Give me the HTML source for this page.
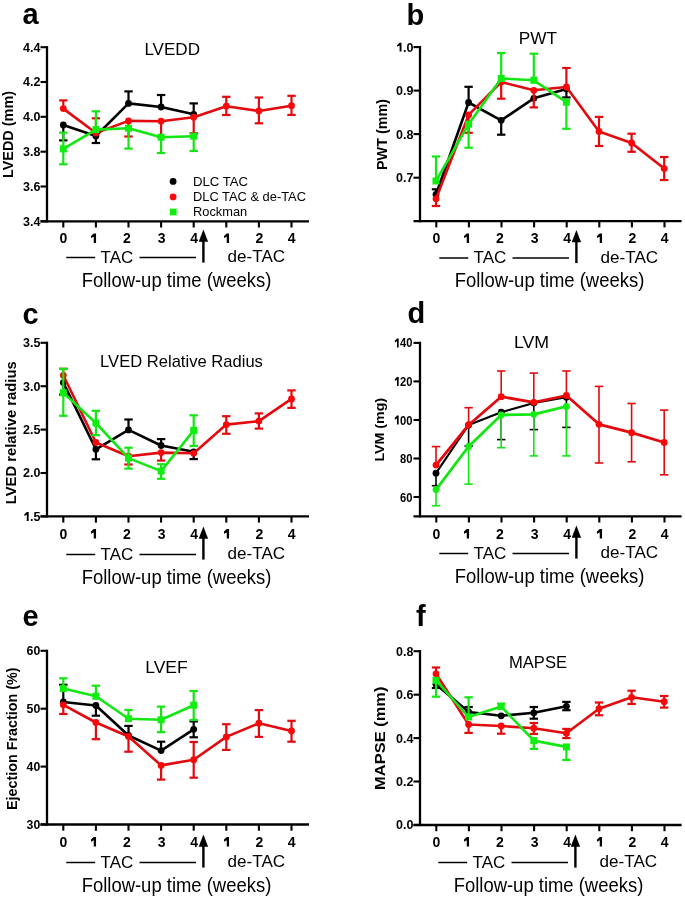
<!DOCTYPE html>
<html><head><meta charset="utf-8"><title>Figure</title>
<style>
html,body{margin:0;padding:0;background:#fff;}
body{width:685px;height:898px;overflow:hidden;}
svg{display:block;filter:blur(0.4px);}
text{font-family:"Liberation Sans",sans-serif;fill:#000;}
</style></head><body>
<svg width="685" height="898" viewBox="0 0 685 898">
<rect width="685" height="898" fill="#fff"/>
<text x="22.5" y="24.0" font-size="29" font-weight="bold">a</text>
<text x="172.2" y="54.5" font-size="16.2" text-anchor="middle" textLength="55.6" lengthAdjust="spacingAndGlyphs">LVEDD</text>
<line x1="47" y1="46.1" x2="47" y2="222.4" stroke="#000" stroke-width="2.3"/>
<line x1="40.5" y1="221.3" x2="309" y2="221.3" stroke="#000" stroke-width="2.3"/>
<line x1="40.5" y1="47.2" x2="47" y2="47.2" stroke="#000" stroke-width="2.1"/>
<g transform="translate(40.50,51.68) scale(1.0,1)"><text x="-17.4" y="0.0" font-size="12.5" font-weight="bold">4</text><text x="-10.4" y="0.0" font-size="12.5" font-weight="bold">.</text><text x="-6.9" y="0.0" font-size="12.5" font-weight="bold">4</text></g>
<line x1="40.5" y1="82.0" x2="47" y2="82.0" stroke="#000" stroke-width="2.1"/>
<g transform="translate(40.50,86.47) scale(1.0,1)"><text x="-17.4" y="0.0" font-size="12.5" font-weight="bold">4</text><text x="-10.4" y="0.0" font-size="12.5" font-weight="bold">.</text><text x="-6.9" y="0.0" font-size="12.5" font-weight="bold">2</text></g>
<line x1="40.5" y1="116.8" x2="47" y2="116.8" stroke="#000" stroke-width="2.1"/>
<g transform="translate(40.50,121.27) scale(1.0,1)"><text x="-17.4" y="0.0" font-size="12.5" font-weight="bold">4</text><text x="-10.4" y="0.0" font-size="12.5" font-weight="bold">.</text><text x="-6.9" y="0.0" font-size="12.5" font-weight="bold">0</text></g>
<line x1="40.5" y1="151.7" x2="47" y2="151.7" stroke="#000" stroke-width="2.1"/>
<g transform="translate(40.50,156.17) scale(1.0,1)"><text x="-17.4" y="0.0" font-size="12.5" font-weight="bold">3</text><text x="-10.4" y="0.0" font-size="12.5" font-weight="bold">.</text><text x="-6.9" y="0.0" font-size="12.5" font-weight="bold">8</text></g>
<line x1="40.5" y1="186.5" x2="47" y2="186.5" stroke="#000" stroke-width="2.1"/>
<g transform="translate(40.50,190.97) scale(1.0,1)"><text x="-17.4" y="0.0" font-size="12.5" font-weight="bold">3</text><text x="-10.4" y="0.0" font-size="12.5" font-weight="bold">.</text><text x="-6.9" y="0.0" font-size="12.5" font-weight="bold">6</text></g>
<line x1="40.5" y1="221.3" x2="47" y2="221.3" stroke="#000" stroke-width="2.1"/>
<g transform="translate(40.50,225.78) scale(1.0,1)"><text x="-17.4" y="0.0" font-size="12.5" font-weight="bold">3</text><text x="-10.4" y="0.0" font-size="12.5" font-weight="bold">.</text><text x="-6.9" y="0.0" font-size="12.5" font-weight="bold">4</text></g>
<line x1="63.3" y1="221.3" x2="63.3" y2="227.5" stroke="#000" stroke-width="2.1"/>
<line x1="95.9" y1="221.3" x2="95.9" y2="227.5" stroke="#000" stroke-width="2.1"/>
<line x1="128.5" y1="221.3" x2="128.5" y2="227.5" stroke="#000" stroke-width="2.1"/>
<line x1="161.1" y1="221.3" x2="161.1" y2="227.5" stroke="#000" stroke-width="2.1"/>
<line x1="193.7" y1="221.3" x2="193.7" y2="227.5" stroke="#000" stroke-width="2.1"/>
<line x1="226.3" y1="221.3" x2="226.3" y2="227.5" stroke="#000" stroke-width="2.1"/>
<line x1="258.9" y1="221.3" x2="258.9" y2="227.5" stroke="#000" stroke-width="2.1"/>
<line x1="291.5" y1="221.3" x2="291.5" y2="227.5" stroke="#000" stroke-width="2.1"/>
<text x="63.5" y="242.9" font-size="14" font-weight="bold" text-anchor="middle">0</text>
<path d="M93.75,233.40 L96.05,233.40 L96.05,242.90 L93.75,242.90 L93.75,236.70 L91.00,238.10 L91.00,235.90 Z" fill="#000"/>
<text x="126.8" y="242.9" font-size="14" font-weight="bold" text-anchor="middle">2</text>
<text x="161.6" y="242.9" font-size="14" font-weight="bold" text-anchor="middle">3</text>
<text x="194.1" y="242.9" font-size="14" font-weight="bold" text-anchor="middle">4</text>
<path d="M226.75,233.40 L229.05,233.40 L229.05,242.90 L226.75,242.90 L226.75,236.70 L224.00,238.10 L224.00,235.90 Z" fill="#000"/>
<text x="259.3" y="242.9" font-size="14" font-weight="bold" text-anchor="middle">2</text>
<text x="291.7" y="242.9" font-size="14" font-weight="bold" text-anchor="middle">4</text>
<text transform="translate(12.7,134.5) rotate(-90)" font-size="14.0" font-weight="bold" text-anchor="middle" textLength="87.0" lengthAdjust="spacingAndGlyphs">LVEDD (mm)</text>
<line x1="66.3" y1="257.5" x2="95.2" y2="257.5" stroke="#000" stroke-width="1.5"/>
<text x="100.6" y="262.6" font-size="16.8" textLength="32.7" lengthAdjust="spacingAndGlyphs">TAC</text>
<line x1="139.5" y1="257.5" x2="196" y2="257.5" stroke="#000" stroke-width="1.5"/>
<line x1="203.4" y1="238" x2="203.4" y2="262.6" stroke="#000" stroke-width="2.4"/>
<polygon points="203.4,229.6 198.70000000000002,241.8 208.1,241.8" fill="#000"/>
<text x="227.6" y="262.0" font-size="16.6" textLength="57.6" lengthAdjust="spacingAndGlyphs">de-TAC</text>
<text x="81.7" y="286.6" font-size="19.4" textLength="189.6" lengthAdjust="spacingAndGlyphs">Follow-up time (weeks)</text>
<circle cx="173.1" cy="181.4" r="3.4" fill="#000"/>
<circle cx="173.1" cy="196.9" r="3.4" fill="#f80808"/>
<rect x="169.8" y="208.6" width="6.8" height="6.8" fill="#10ee10"/>
<text x="193.0" y="186.4" font-size="12.9" textLength="55.0" lengthAdjust="spacingAndGlyphs">DLC TAC</text>
<text x="193.0" y="201.3" font-size="12.9" textLength="113.0" lengthAdjust="spacingAndGlyphs">DLC TAC &amp; de-TAC</text>
<text x="193.0" y="216.4" font-size="12.9" textLength="54.2" lengthAdjust="spacingAndGlyphs">Rockman</text>
<line x1="63.3" y1="125.0" x2="63.3" y2="140.4" stroke="#000" stroke-width="2.2"/>
<line x1="59.1" y1="140.4" x2="67.5" y2="140.4" stroke="#000" stroke-width="2.2"/>
<line x1="95.9" y1="136.0" x2="95.9" y2="143.0" stroke="#000" stroke-width="2.2"/>
<line x1="91.7" y1="143.0" x2="100.1" y2="143.0" stroke="#000" stroke-width="2.2"/>
<line x1="128.5" y1="103.4" x2="128.5" y2="91.4" stroke="#000" stroke-width="2.2"/>
<line x1="124.3" y1="91.4" x2="132.7" y2="91.4" stroke="#000" stroke-width="2.2"/>
<line x1="161.1" y1="107.0" x2="161.1" y2="95.0" stroke="#000" stroke-width="2.2"/>
<line x1="156.9" y1="95.0" x2="165.3" y2="95.0" stroke="#000" stroke-width="2.2"/>
<line x1="193.7" y1="114.3" x2="193.7" y2="103.4" stroke="#000" stroke-width="2.2"/>
<line x1="189.5" y1="103.4" x2="197.9" y2="103.4" stroke="#000" stroke-width="2.2"/>
<polyline points="63.3,125.0 95.9,136.0 128.5,103.4 161.1,107.0 193.7,114.3" fill="none" stroke="#000" stroke-width="2.6" stroke-linejoin="round"/>
<circle cx="63.3" cy="125.0" r="3.40" fill="#000"/>
<circle cx="95.9" cy="136.0" r="3.40" fill="#000"/>
<circle cx="128.5" cy="103.4" r="3.40" fill="#000"/>
<circle cx="161.1" cy="107.0" r="3.40" fill="#000"/>
<circle cx="193.7" cy="114.3" r="3.40" fill="#000"/>
<line x1="63.3" y1="108.6" x2="63.3" y2="100.4" stroke="#e20a0e" stroke-width="2.2"/>
<line x1="59.1" y1="100.4" x2="67.5" y2="100.4" stroke="#e20a0e" stroke-width="2.2"/>
<line x1="95.9" y1="133.0" x2="95.9" y2="118.3" stroke="#e20a0e" stroke-width="2.2"/>
<line x1="91.7" y1="118.3" x2="100.1" y2="118.3" stroke="#e20a0e" stroke-width="2.2"/>
<line x1="128.5" y1="120.9" x2="128.5" y2="136.5" stroke="#e20a0e" stroke-width="2.2"/>
<line x1="124.3" y1="136.5" x2="132.7" y2="136.5" stroke="#e20a0e" stroke-width="2.2"/>
<line x1="161.1" y1="121.2" x2="161.1" y2="137.0" stroke="#e20a0e" stroke-width="2.2"/>
<line x1="156.9" y1="137.0" x2="165.3" y2="137.0" stroke="#e20a0e" stroke-width="2.2"/>
<line x1="193.7" y1="117.2" x2="193.7" y2="133.3" stroke="#e20a0e" stroke-width="2.2"/>
<line x1="189.5" y1="133.3" x2="197.9" y2="133.3" stroke="#e20a0e" stroke-width="2.2"/>
<line x1="226.3" y1="106.2" x2="226.3" y2="96.8" stroke="#e20a0e" stroke-width="2.2"/>
<line x1="222.1" y1="96.8" x2="230.5" y2="96.8" stroke="#e20a0e" stroke-width="2.2"/>
<line x1="226.3" y1="106.2" x2="226.3" y2="115.0" stroke="#e20a0e" stroke-width="2.2"/>
<line x1="222.1" y1="115.0" x2="230.5" y2="115.0" stroke="#e20a0e" stroke-width="2.2"/>
<line x1="258.9" y1="111.0" x2="258.9" y2="97.5" stroke="#e20a0e" stroke-width="2.2"/>
<line x1="254.7" y1="97.5" x2="263.1" y2="97.5" stroke="#e20a0e" stroke-width="2.2"/>
<line x1="258.9" y1="111.0" x2="258.9" y2="123.3" stroke="#e20a0e" stroke-width="2.2"/>
<line x1="254.7" y1="123.3" x2="263.1" y2="123.3" stroke="#e20a0e" stroke-width="2.2"/>
<line x1="291.5" y1="105.7" x2="291.5" y2="95.8" stroke="#e20a0e" stroke-width="2.2"/>
<line x1="287.3" y1="95.8" x2="295.7" y2="95.8" stroke="#e20a0e" stroke-width="2.2"/>
<line x1="291.5" y1="105.7" x2="291.5" y2="114.9" stroke="#e20a0e" stroke-width="2.2"/>
<line x1="287.3" y1="114.9" x2="295.7" y2="114.9" stroke="#e20a0e" stroke-width="2.2"/>
<polyline points="63.3,108.6 95.9,133.0 128.5,120.9 161.1,121.2 193.7,117.2 226.3,106.2 258.9,111.0 291.5,105.7" fill="none" stroke="#e20a0e" stroke-width="2.6" stroke-linejoin="round"/>
<circle cx="63.3" cy="108.6" r="3.40" fill="#f80808"/>
<circle cx="95.9" cy="133.0" r="3.40" fill="#f80808"/>
<circle cx="128.5" cy="120.9" r="3.40" fill="#f80808"/>
<circle cx="161.1" cy="121.2" r="3.40" fill="#f80808"/>
<circle cx="193.7" cy="117.2" r="3.40" fill="#f80808"/>
<circle cx="226.3" cy="106.2" r="3.40" fill="#f80808"/>
<circle cx="258.9" cy="111.0" r="3.40" fill="#f80808"/>
<circle cx="291.5" cy="105.7" r="3.40" fill="#f80808"/>
<line x1="63.3" y1="148.9" x2="63.3" y2="132.6" stroke="#14e614" stroke-width="2.2"/>
<line x1="59.1" y1="132.6" x2="67.5" y2="132.6" stroke="#14e614" stroke-width="2.2"/>
<line x1="63.3" y1="148.9" x2="63.3" y2="164.3" stroke="#14e614" stroke-width="2.2"/>
<line x1="59.1" y1="164.3" x2="67.5" y2="164.3" stroke="#14e614" stroke-width="2.2"/>
<line x1="95.9" y1="129.6" x2="95.9" y2="111.3" stroke="#14e614" stroke-width="2.2"/>
<line x1="91.7" y1="111.3" x2="100.1" y2="111.3" stroke="#14e614" stroke-width="2.2"/>
<line x1="128.5" y1="128.2" x2="128.5" y2="148.6" stroke="#14e614" stroke-width="2.2"/>
<line x1="124.3" y1="148.6" x2="132.7" y2="148.6" stroke="#14e614" stroke-width="2.2"/>
<line x1="161.1" y1="137.2" x2="161.1" y2="153.0" stroke="#14e614" stroke-width="2.2"/>
<line x1="156.9" y1="153.0" x2="165.3" y2="153.0" stroke="#14e614" stroke-width="2.2"/>
<line x1="193.7" y1="136.2" x2="193.7" y2="151.0" stroke="#14e614" stroke-width="2.2"/>
<line x1="189.5" y1="151.0" x2="197.9" y2="151.0" stroke="#14e614" stroke-width="2.2"/>
<polyline points="63.3,148.9 95.9,129.6 128.5,128.2 161.1,137.2 193.7,136.2" fill="none" stroke="#14e614" stroke-width="2.6" stroke-linejoin="round"/>
<rect x="59.8" y="145.4" width="7.0" height="7.0" fill="#10ee10"/>
<rect x="92.4" y="126.1" width="7.0" height="7.0" fill="#10ee10"/>
<rect x="125.0" y="124.7" width="7.0" height="7.0" fill="#10ee10"/>
<rect x="157.6" y="133.7" width="7.0" height="7.0" fill="#10ee10"/>
<rect x="190.2" y="132.7" width="7.0" height="7.0" fill="#10ee10"/>
<text x="406.5" y="24.5" font-size="29" font-weight="bold">b</text>
<text x="537.9" y="43.7" font-size="16.3" text-anchor="middle" textLength="38.3" lengthAdjust="spacingAndGlyphs">PWT</text>
<line x1="420" y1="46.0" x2="420" y2="222.29999999999998" stroke="#000" stroke-width="2.3"/>
<line x1="413.5" y1="221.2" x2="681.6" y2="221.2" stroke="#000" stroke-width="2.3"/>
<line x1="413.5" y1="47.1" x2="420" y2="47.1" stroke="#000" stroke-width="2.1"/>
<g transform="translate(413.30,51.58) scale(1.0,1)"><path d="M-13.69,-8.95 L-11.81,-8.95 L-11.81,0.00 L-13.69,0.00 L-13.69,-6.01 L-16.12,-4.76 L-16.12,-6.70 Z" fill="#000"/><text x="-10.4" y="0.0" font-size="12.5" font-weight="bold">.</text><text x="-6.9" y="0.0" font-size="12.5" font-weight="bold">0</text></g>
<line x1="413.5" y1="90.6" x2="420" y2="90.6" stroke="#000" stroke-width="2.1"/>
<g transform="translate(413.30,95.07) scale(1.0,1)"><text x="-17.4" y="0.0" font-size="12.5" font-weight="bold">0</text><text x="-10.4" y="0.0" font-size="12.5" font-weight="bold">.</text><text x="-6.9" y="0.0" font-size="12.5" font-weight="bold">9</text></g>
<line x1="413.5" y1="134.1" x2="420" y2="134.1" stroke="#000" stroke-width="2.1"/>
<g transform="translate(413.30,138.57) scale(1.0,1)"><text x="-17.4" y="0.0" font-size="12.5" font-weight="bold">0</text><text x="-10.4" y="0.0" font-size="12.5" font-weight="bold">.</text><text x="-6.9" y="0.0" font-size="12.5" font-weight="bold">8</text></g>
<line x1="413.5" y1="177.7" x2="420" y2="177.7" stroke="#000" stroke-width="2.1"/>
<g transform="translate(413.30,182.17) scale(1.0,1)"><text x="-17.4" y="0.0" font-size="12.5" font-weight="bold">0</text><text x="-10.4" y="0.0" font-size="12.5" font-weight="bold">.</text><text x="-6.9" y="0.0" font-size="12.5" font-weight="bold">7</text></g>
<line x1="436.3" y1="221.2" x2="436.3" y2="227.39999999999998" stroke="#000" stroke-width="2.1"/>
<line x1="468.9" y1="221.2" x2="468.9" y2="227.39999999999998" stroke="#000" stroke-width="2.1"/>
<line x1="501.5" y1="221.2" x2="501.5" y2="227.39999999999998" stroke="#000" stroke-width="2.1"/>
<line x1="534.1" y1="221.2" x2="534.1" y2="227.39999999999998" stroke="#000" stroke-width="2.1"/>
<line x1="566.7" y1="221.2" x2="566.7" y2="227.39999999999998" stroke="#000" stroke-width="2.1"/>
<line x1="599.3" y1="221.2" x2="599.3" y2="227.39999999999998" stroke="#000" stroke-width="2.1"/>
<line x1="631.9" y1="221.2" x2="631.9" y2="227.39999999999998" stroke="#000" stroke-width="2.1"/>
<line x1="664.5" y1="221.2" x2="664.5" y2="227.39999999999998" stroke="#000" stroke-width="2.1"/>
<text x="436.5" y="242.9" font-size="14" font-weight="bold" text-anchor="middle">0</text>
<path d="M466.75,233.40 L469.05,233.40 L469.05,242.90 L466.75,242.90 L466.75,236.70 L464.00,238.10 L464.00,235.90 Z" fill="#000"/>
<text x="499.8" y="242.9" font-size="14" font-weight="bold" text-anchor="middle">2</text>
<text x="534.6" y="242.9" font-size="14" font-weight="bold" text-anchor="middle">3</text>
<text x="567.1" y="242.9" font-size="14" font-weight="bold" text-anchor="middle">4</text>
<path d="M599.75,233.40 L602.05,233.40 L602.05,242.90 L599.75,242.90 L599.75,236.70 L597.00,238.10 L597.00,235.90 Z" fill="#000"/>
<text x="632.3" y="242.9" font-size="14" font-weight="bold" text-anchor="middle">2</text>
<text x="664.7" y="242.9" font-size="14" font-weight="bold" text-anchor="middle">4</text>
<text transform="translate(386.5,134.5) rotate(-90)" font-size="14.1" font-weight="bold" text-anchor="middle" textLength="71.0" lengthAdjust="spacingAndGlyphs">PWT (mm)</text>
<line x1="439.3" y1="258.0" x2="468.2" y2="258.0" stroke="#000" stroke-width="1.5"/>
<text x="473.6" y="263.1" font-size="16.8" textLength="32.7" lengthAdjust="spacingAndGlyphs">TAC</text>
<line x1="512.5" y1="258.0" x2="569" y2="258.0" stroke="#000" stroke-width="1.5"/>
<line x1="576.4" y1="238.5" x2="576.4" y2="263.1" stroke="#000" stroke-width="2.4"/>
<polygon points="576.4,230.1 571.6999999999999,242.3 581.1,242.3" fill="#000"/>
<text x="600.6" y="262.5" font-size="16.6" textLength="57.6" lengthAdjust="spacingAndGlyphs">de-TAC</text>
<text x="454.7" y="287.1" font-size="19.4" textLength="189.6" lengthAdjust="spacingAndGlyphs">Follow-up time (weeks)</text>
<line x1="436.0" y1="194.5" x2="436.0" y2="189.3" stroke="#000" stroke-width="2.2"/>
<line x1="431.8" y1="189.3" x2="440.2" y2="189.3" stroke="#000" stroke-width="2.2"/>
<line x1="468.6" y1="102.5" x2="468.6" y2="86.8" stroke="#000" stroke-width="2.2"/>
<line x1="464.4" y1="86.8" x2="472.8" y2="86.8" stroke="#000" stroke-width="2.2"/>
<line x1="501.2" y1="120.3" x2="501.2" y2="134.7" stroke="#000" stroke-width="2.2"/>
<line x1="497.0" y1="134.7" x2="505.4" y2="134.7" stroke="#000" stroke-width="2.2"/>
<line x1="566.4" y1="89.0" x2="566.4" y2="97.4" stroke="#000" stroke-width="2.2"/>
<line x1="562.2" y1="97.4" x2="570.6" y2="97.4" stroke="#000" stroke-width="2.2"/>
<polyline points="436.0,194.5 468.6,102.5 501.2,120.3 533.8,98.3 566.4,89.0" fill="none" stroke="#000" stroke-width="2.6" stroke-linejoin="round"/>
<circle cx="436.0" cy="194.5" r="3.40" fill="#000"/>
<circle cx="468.6" cy="102.5" r="3.40" fill="#000"/>
<circle cx="501.2" cy="120.3" r="3.40" fill="#000"/>
<circle cx="533.8" cy="98.3" r="3.40" fill="#000"/>
<circle cx="566.4" cy="89.0" r="3.40" fill="#000"/>
<line x1="436.0" y1="198.8" x2="436.0" y2="206.0" stroke="#e20a0e" stroke-width="2.2"/>
<line x1="431.8" y1="206.0" x2="440.2" y2="206.0" stroke="#e20a0e" stroke-width="2.2"/>
<line x1="468.6" y1="114.9" x2="468.6" y2="132.8" stroke="#e20a0e" stroke-width="2.2"/>
<line x1="464.4" y1="132.8" x2="472.8" y2="132.8" stroke="#e20a0e" stroke-width="2.2"/>
<line x1="501.2" y1="82.0" x2="501.2" y2="98.7" stroke="#e20a0e" stroke-width="2.2"/>
<line x1="497.0" y1="98.7" x2="505.4" y2="98.7" stroke="#e20a0e" stroke-width="2.2"/>
<line x1="533.8" y1="90.3" x2="533.8" y2="107.4" stroke="#e20a0e" stroke-width="2.2"/>
<line x1="529.6" y1="107.4" x2="538.0" y2="107.4" stroke="#e20a0e" stroke-width="2.2"/>
<line x1="566.4" y1="87.0" x2="566.4" y2="68.0" stroke="#e20a0e" stroke-width="2.2"/>
<line x1="562.2" y1="68.0" x2="570.6" y2="68.0" stroke="#e20a0e" stroke-width="2.2"/>
<line x1="599.0" y1="131.4" x2="599.0" y2="116.9" stroke="#e20a0e" stroke-width="2.2"/>
<line x1="594.8" y1="116.9" x2="603.2" y2="116.9" stroke="#e20a0e" stroke-width="2.2"/>
<line x1="599.0" y1="131.4" x2="599.0" y2="146.0" stroke="#e20a0e" stroke-width="2.2"/>
<line x1="594.8" y1="146.0" x2="603.2" y2="146.0" stroke="#e20a0e" stroke-width="2.2"/>
<line x1="631.6" y1="142.9" x2="631.6" y2="133.7" stroke="#e20a0e" stroke-width="2.2"/>
<line x1="627.4" y1="133.7" x2="635.8" y2="133.7" stroke="#e20a0e" stroke-width="2.2"/>
<line x1="631.6" y1="142.9" x2="631.6" y2="151.8" stroke="#e20a0e" stroke-width="2.2"/>
<line x1="627.4" y1="151.8" x2="635.8" y2="151.8" stroke="#e20a0e" stroke-width="2.2"/>
<line x1="664.2" y1="168.6" x2="664.2" y2="157.0" stroke="#e20a0e" stroke-width="2.2"/>
<line x1="660.0" y1="157.0" x2="668.4" y2="157.0" stroke="#e20a0e" stroke-width="2.2"/>
<line x1="664.2" y1="168.6" x2="664.2" y2="180.0" stroke="#e20a0e" stroke-width="2.2"/>
<line x1="660.0" y1="180.0" x2="668.4" y2="180.0" stroke="#e20a0e" stroke-width="2.2"/>
<polyline points="436.0,198.8 468.6,114.9 501.2,82.0 533.8,90.3 566.4,87.0 599.0,131.4 631.6,142.9 664.2,168.6" fill="none" stroke="#e20a0e" stroke-width="2.6" stroke-linejoin="round"/>
<circle cx="436.0" cy="198.8" r="3.40" fill="#f80808"/>
<circle cx="468.6" cy="114.9" r="3.40" fill="#f80808"/>
<circle cx="501.2" cy="82.0" r="3.40" fill="#f80808"/>
<circle cx="533.8" cy="90.3" r="3.40" fill="#f80808"/>
<circle cx="566.4" cy="87.0" r="3.40" fill="#f80808"/>
<circle cx="599.0" cy="131.4" r="3.40" fill="#f80808"/>
<circle cx="631.6" cy="142.9" r="3.40" fill="#f80808"/>
<circle cx="664.2" cy="168.6" r="3.40" fill="#f80808"/>
<line x1="436.0" y1="181.0" x2="436.0" y2="156.5" stroke="#14e614" stroke-width="2.2"/>
<line x1="431.8" y1="156.5" x2="440.2" y2="156.5" stroke="#14e614" stroke-width="2.2"/>
<line x1="468.6" y1="124.2" x2="468.6" y2="147.7" stroke="#14e614" stroke-width="2.2"/>
<line x1="464.4" y1="147.7" x2="472.8" y2="147.7" stroke="#14e614" stroke-width="2.2"/>
<line x1="501.2" y1="78.5" x2="501.2" y2="53.0" stroke="#14e614" stroke-width="2.2"/>
<line x1="497.0" y1="53.0" x2="505.4" y2="53.0" stroke="#14e614" stroke-width="2.2"/>
<line x1="533.8" y1="80.3" x2="533.8" y2="53.7" stroke="#14e614" stroke-width="2.2"/>
<line x1="529.6" y1="53.7" x2="538.0" y2="53.7" stroke="#14e614" stroke-width="2.2"/>
<line x1="566.4" y1="102.2" x2="566.4" y2="128.8" stroke="#14e614" stroke-width="2.2"/>
<line x1="562.2" y1="128.8" x2="570.6" y2="128.8" stroke="#14e614" stroke-width="2.2"/>
<polyline points="436.0,181.0 468.6,124.2 501.2,78.5 533.8,80.3 566.4,102.2" fill="none" stroke="#14e614" stroke-width="2.6" stroke-linejoin="round"/>
<rect x="432.5" y="177.5" width="7.0" height="7.0" fill="#10ee10"/>
<rect x="465.1" y="120.7" width="7.0" height="7.0" fill="#10ee10"/>
<rect x="497.7" y="75.0" width="7.0" height="7.0" fill="#10ee10"/>
<rect x="530.3" y="76.8" width="7.0" height="7.0" fill="#10ee10"/>
<rect x="562.9" y="98.7" width="7.0" height="7.0" fill="#10ee10"/>
<text x="22.5" y="323.5" font-size="29" font-weight="bold">c</text>
<text x="181.5" y="367.1" font-size="16.4" text-anchor="middle" textLength="162.8" lengthAdjust="spacingAndGlyphs">LVED Relative Radius</text>
<line x1="47" y1="341.7" x2="47" y2="517.5" stroke="#000" stroke-width="2.3"/>
<line x1="40.5" y1="516.4" x2="309" y2="516.4" stroke="#000" stroke-width="2.3"/>
<line x1="40.5" y1="342.8" x2="47" y2="342.8" stroke="#000" stroke-width="2.1"/>
<g transform="translate(40.50,347.28) scale(1.0,1)"><text x="-17.4" y="0.0" font-size="12.5" font-weight="bold">3</text><text x="-10.4" y="0.0" font-size="12.5" font-weight="bold">.</text><text x="-6.9" y="0.0" font-size="12.5" font-weight="bold">5</text></g>
<line x1="40.5" y1="386.2" x2="47" y2="386.2" stroke="#000" stroke-width="2.1"/>
<g transform="translate(40.50,390.68) scale(1.0,1)"><text x="-17.4" y="0.0" font-size="12.5" font-weight="bold">3</text><text x="-10.4" y="0.0" font-size="12.5" font-weight="bold">.</text><text x="-6.9" y="0.0" font-size="12.5" font-weight="bold">0</text></g>
<line x1="40.5" y1="429.6" x2="47" y2="429.6" stroke="#000" stroke-width="2.1"/>
<g transform="translate(40.50,434.08) scale(1.0,1)"><text x="-17.4" y="0.0" font-size="12.5" font-weight="bold">2</text><text x="-10.4" y="0.0" font-size="12.5" font-weight="bold">.</text><text x="-6.9" y="0.0" font-size="12.5" font-weight="bold">5</text></g>
<line x1="40.5" y1="473.0" x2="47" y2="473.0" stroke="#000" stroke-width="2.1"/>
<g transform="translate(40.50,477.48) scale(1.0,1)"><text x="-17.4" y="0.0" font-size="12.5" font-weight="bold">2</text><text x="-10.4" y="0.0" font-size="12.5" font-weight="bold">.</text><text x="-6.9" y="0.0" font-size="12.5" font-weight="bold">0</text></g>
<line x1="40.5" y1="516.4" x2="47" y2="516.4" stroke="#000" stroke-width="2.1"/>
<g transform="translate(40.50,520.88) scale(1.0,1)"><path d="M-13.69,-8.95 L-11.81,-8.95 L-11.81,0.00 L-13.69,0.00 L-13.69,-6.01 L-16.12,-4.76 L-16.12,-6.70 Z" fill="#000"/><text x="-10.4" y="0.0" font-size="12.5" font-weight="bold">.</text><text x="-6.9" y="0.0" font-size="12.5" font-weight="bold">5</text></g>
<line x1="63.3" y1="516.4" x2="63.3" y2="522.6" stroke="#000" stroke-width="2.1"/>
<line x1="95.9" y1="516.4" x2="95.9" y2="522.6" stroke="#000" stroke-width="2.1"/>
<line x1="128.5" y1="516.4" x2="128.5" y2="522.6" stroke="#000" stroke-width="2.1"/>
<line x1="161.1" y1="516.4" x2="161.1" y2="522.6" stroke="#000" stroke-width="2.1"/>
<line x1="193.7" y1="516.4" x2="193.7" y2="522.6" stroke="#000" stroke-width="2.1"/>
<line x1="226.3" y1="516.4" x2="226.3" y2="522.6" stroke="#000" stroke-width="2.1"/>
<line x1="258.9" y1="516.4" x2="258.9" y2="522.6" stroke="#000" stroke-width="2.1"/>
<line x1="291.5" y1="516.4" x2="291.5" y2="522.6" stroke="#000" stroke-width="2.1"/>
<text x="63.5" y="538.6" font-size="14" font-weight="bold" text-anchor="middle">0</text>
<path d="M93.75,529.10 L96.05,529.10 L96.05,538.60 L93.75,538.60 L93.75,532.40 L91.00,533.80 L91.00,531.60 Z" fill="#000"/>
<text x="126.8" y="538.6" font-size="14" font-weight="bold" text-anchor="middle">2</text>
<text x="161.6" y="538.6" font-size="14" font-weight="bold" text-anchor="middle">3</text>
<text x="194.1" y="538.6" font-size="14" font-weight="bold" text-anchor="middle">4</text>
<path d="M226.75,529.10 L229.05,529.10 L229.05,538.60 L226.75,538.60 L226.75,532.40 L224.00,533.80 L224.00,531.60 Z" fill="#000"/>
<text x="259.3" y="538.6" font-size="14" font-weight="bold" text-anchor="middle">2</text>
<text x="291.7" y="538.6" font-size="14" font-weight="bold" text-anchor="middle">4</text>
<text transform="translate(15.6,432.8) rotate(-90)" font-size="14.7" font-weight="bold" text-anchor="middle" textLength="142.9" lengthAdjust="spacingAndGlyphs">LVED relative radius</text>
<line x1="66.3" y1="554.5" x2="95.2" y2="554.5" stroke="#000" stroke-width="1.5"/>
<text x="100.6" y="559.6" font-size="16.8" textLength="32.7" lengthAdjust="spacingAndGlyphs">TAC</text>
<line x1="139.5" y1="554.5" x2="196" y2="554.5" stroke="#000" stroke-width="1.5"/>
<line x1="203.4" y1="535" x2="203.4" y2="559.6" stroke="#000" stroke-width="2.4"/>
<polygon points="203.4,526.6 198.70000000000002,538.8 208.1,538.8" fill="#000"/>
<text x="227.6" y="559.0" font-size="16.6" textLength="57.6" lengthAdjust="spacingAndGlyphs">de-TAC</text>
<text x="81.7" y="583.6" font-size="19.4" textLength="189.6" lengthAdjust="spacingAndGlyphs">Follow-up time (weeks)</text>
<line x1="63.3" y1="382.6" x2="63.3" y2="394.6" stroke="#000" stroke-width="2.2"/>
<line x1="59.1" y1="394.6" x2="67.5" y2="394.6" stroke="#000" stroke-width="2.2"/>
<line x1="95.9" y1="449.3" x2="95.9" y2="459.3" stroke="#000" stroke-width="2.2"/>
<line x1="91.7" y1="459.3" x2="100.1" y2="459.3" stroke="#000" stroke-width="2.2"/>
<line x1="128.5" y1="429.9" x2="128.5" y2="419.5" stroke="#000" stroke-width="2.2"/>
<line x1="124.3" y1="419.5" x2="132.7" y2="419.5" stroke="#000" stroke-width="2.2"/>
<line x1="161.1" y1="445.5" x2="161.1" y2="439.1" stroke="#000" stroke-width="2.2"/>
<line x1="156.9" y1="439.1" x2="165.3" y2="439.1" stroke="#000" stroke-width="2.2"/>
<line x1="193.7" y1="451.8" x2="193.7" y2="459.1" stroke="#000" stroke-width="2.2"/>
<line x1="189.5" y1="459.1" x2="197.9" y2="459.1" stroke="#000" stroke-width="2.2"/>
<polyline points="63.3,382.6 95.9,449.3 128.5,429.9 161.1,445.5 193.7,451.8" fill="none" stroke="#000" stroke-width="2.6" stroke-linejoin="round"/>
<circle cx="63.3" cy="382.6" r="3.40" fill="#000"/>
<circle cx="95.9" cy="449.3" r="3.40" fill="#000"/>
<circle cx="128.5" cy="429.9" r="3.40" fill="#000"/>
<circle cx="161.1" cy="445.5" r="3.40" fill="#000"/>
<circle cx="193.7" cy="451.8" r="3.40" fill="#000"/>
<line x1="63.3" y1="375.3" x2="63.3" y2="368.8" stroke="#e20a0e" stroke-width="2.2"/>
<line x1="59.1" y1="368.8" x2="67.5" y2="368.8" stroke="#e20a0e" stroke-width="2.2"/>
<line x1="128.5" y1="456.2" x2="128.5" y2="464.5" stroke="#e20a0e" stroke-width="2.2"/>
<line x1="124.3" y1="464.5" x2="132.7" y2="464.5" stroke="#e20a0e" stroke-width="2.2"/>
<line x1="161.1" y1="452.6" x2="161.1" y2="460.6" stroke="#e20a0e" stroke-width="2.2"/>
<line x1="156.9" y1="460.6" x2="165.3" y2="460.6" stroke="#e20a0e" stroke-width="2.2"/>
<line x1="226.3" y1="424.6" x2="226.3" y2="416.2" stroke="#e20a0e" stroke-width="2.2"/>
<line x1="222.1" y1="416.2" x2="230.5" y2="416.2" stroke="#e20a0e" stroke-width="2.2"/>
<line x1="226.3" y1="424.6" x2="226.3" y2="433.8" stroke="#e20a0e" stroke-width="2.2"/>
<line x1="222.1" y1="433.8" x2="230.5" y2="433.8" stroke="#e20a0e" stroke-width="2.2"/>
<line x1="258.9" y1="421.1" x2="258.9" y2="413.4" stroke="#e20a0e" stroke-width="2.2"/>
<line x1="254.7" y1="413.4" x2="263.1" y2="413.4" stroke="#e20a0e" stroke-width="2.2"/>
<line x1="258.9" y1="421.1" x2="258.9" y2="428.6" stroke="#e20a0e" stroke-width="2.2"/>
<line x1="254.7" y1="428.6" x2="263.1" y2="428.6" stroke="#e20a0e" stroke-width="2.2"/>
<line x1="291.5" y1="398.9" x2="291.5" y2="390.4" stroke="#e20a0e" stroke-width="2.2"/>
<line x1="287.3" y1="390.4" x2="295.7" y2="390.4" stroke="#e20a0e" stroke-width="2.2"/>
<line x1="291.5" y1="398.9" x2="291.5" y2="407.9" stroke="#e20a0e" stroke-width="2.2"/>
<line x1="287.3" y1="407.9" x2="295.7" y2="407.9" stroke="#e20a0e" stroke-width="2.2"/>
<polyline points="63.3,375.3 95.9,442.5 128.5,456.2 161.1,452.6 193.7,453.3 226.3,424.6 258.9,421.1 291.5,398.9" fill="none" stroke="#e20a0e" stroke-width="2.6" stroke-linejoin="round"/>
<circle cx="63.3" cy="375.3" r="3.40" fill="#f80808"/>
<circle cx="95.9" cy="442.5" r="3.40" fill="#f80808"/>
<circle cx="128.5" cy="456.2" r="3.40" fill="#f80808"/>
<circle cx="161.1" cy="452.6" r="3.40" fill="#f80808"/>
<circle cx="193.7" cy="453.3" r="3.40" fill="#f80808"/>
<circle cx="226.3" cy="424.6" r="3.40" fill="#f80808"/>
<circle cx="258.9" cy="421.1" r="3.40" fill="#f80808"/>
<circle cx="291.5" cy="398.9" r="3.40" fill="#f80808"/>
<line x1="63.3" y1="392.8" x2="63.3" y2="368.8" stroke="#14e614" stroke-width="2.2"/>
<line x1="59.1" y1="368.8" x2="67.5" y2="368.8" stroke="#14e614" stroke-width="2.2"/>
<line x1="63.3" y1="392.8" x2="63.3" y2="415.8" stroke="#14e614" stroke-width="2.2"/>
<line x1="59.1" y1="415.8" x2="67.5" y2="415.8" stroke="#14e614" stroke-width="2.2"/>
<line x1="95.9" y1="423.0" x2="95.9" y2="410.8" stroke="#14e614" stroke-width="2.2"/>
<line x1="91.7" y1="410.8" x2="100.1" y2="410.8" stroke="#14e614" stroke-width="2.2"/>
<line x1="95.9" y1="423.0" x2="95.9" y2="435.2" stroke="#14e614" stroke-width="2.2"/>
<line x1="91.7" y1="435.2" x2="100.1" y2="435.2" stroke="#14e614" stroke-width="2.2"/>
<line x1="128.5" y1="458.1" x2="128.5" y2="447.7" stroke="#14e614" stroke-width="2.2"/>
<line x1="124.3" y1="447.7" x2="132.7" y2="447.7" stroke="#14e614" stroke-width="2.2"/>
<line x1="128.5" y1="458.1" x2="128.5" y2="468.6" stroke="#14e614" stroke-width="2.2"/>
<line x1="124.3" y1="468.6" x2="132.7" y2="468.6" stroke="#14e614" stroke-width="2.2"/>
<line x1="161.1" y1="471.1" x2="161.1" y2="464.2" stroke="#14e614" stroke-width="2.2"/>
<line x1="156.9" y1="464.2" x2="165.3" y2="464.2" stroke="#14e614" stroke-width="2.2"/>
<line x1="161.1" y1="471.1" x2="161.1" y2="478.8" stroke="#14e614" stroke-width="2.2"/>
<line x1="156.9" y1="478.8" x2="165.3" y2="478.8" stroke="#14e614" stroke-width="2.2"/>
<line x1="193.7" y1="430.4" x2="193.7" y2="415.3" stroke="#14e614" stroke-width="2.2"/>
<line x1="189.5" y1="415.3" x2="197.9" y2="415.3" stroke="#14e614" stroke-width="2.2"/>
<line x1="193.7" y1="430.4" x2="193.7" y2="446.0" stroke="#14e614" stroke-width="2.2"/>
<line x1="189.5" y1="446.0" x2="197.9" y2="446.0" stroke="#14e614" stroke-width="2.2"/>
<polyline points="63.3,392.8 95.9,423.0 128.5,458.1 161.1,471.1 193.7,430.4" fill="none" stroke="#14e614" stroke-width="2.6" stroke-linejoin="round"/>
<rect x="59.8" y="389.3" width="7.0" height="7.0" fill="#10ee10"/>
<rect x="92.4" y="419.5" width="7.0" height="7.0" fill="#10ee10"/>
<rect x="125.0" y="454.6" width="7.0" height="7.0" fill="#10ee10"/>
<rect x="157.6" y="467.6" width="7.0" height="7.0" fill="#10ee10"/>
<rect x="190.2" y="426.9" width="7.0" height="7.0" fill="#10ee10"/>
<text x="407.5" y="322.8" font-size="29" font-weight="bold">d</text>
<text x="531.5" y="347.6" font-size="16.3" text-anchor="middle" textLength="35.2" lengthAdjust="spacingAndGlyphs">LVM</text>
<line x1="420" y1="341.79999999999995" x2="420" y2="517.4" stroke="#000" stroke-width="2.3"/>
<line x1="413.5" y1="516.3" x2="681.6" y2="516.3" stroke="#000" stroke-width="2.3"/>
<line x1="413.5" y1="342.9" x2="420" y2="342.9" stroke="#000" stroke-width="2.1"/>
<g transform="translate(412.40,347.41) scale(0.89,1)"><path d="M-17.30,-9.02 L-15.41,-9.02 L-15.41,0.00 L-17.30,0.00 L-17.30,-6.06 L-19.76,-4.80 L-19.76,-6.75 Z" fill="#000"/><text x="-14.0" y="0.0" font-size="12.6" font-weight="bold">4</text><text x="-7.0" y="0.0" font-size="12.6" font-weight="bold">0</text></g>
<line x1="413.5" y1="381.4" x2="420" y2="381.4" stroke="#000" stroke-width="2.1"/>
<g transform="translate(412.40,385.91) scale(0.89,1)"><path d="M-17.30,-9.02 L-15.41,-9.02 L-15.41,0.00 L-17.30,0.00 L-17.30,-6.06 L-19.76,-4.80 L-19.76,-6.75 Z" fill="#000"/><text x="-14.0" y="0.0" font-size="12.6" font-weight="bold">2</text><text x="-7.0" y="0.0" font-size="12.6" font-weight="bold">0</text></g>
<line x1="413.5" y1="420.0" x2="420" y2="420.0" stroke="#000" stroke-width="2.1"/>
<g transform="translate(412.40,424.51) scale(0.89,1)"><path d="M-17.30,-9.02 L-15.41,-9.02 L-15.41,0.00 L-17.30,0.00 L-17.30,-6.06 L-19.76,-4.80 L-19.76,-6.75 Z" fill="#000"/><text x="-14.0" y="0.0" font-size="12.6" font-weight="bold">0</text><text x="-7.0" y="0.0" font-size="12.6" font-weight="bold">0</text></g>
<line x1="413.5" y1="458.5" x2="420" y2="458.5" stroke="#000" stroke-width="2.1"/>
<g transform="translate(412.40,463.01) scale(0.89,1)"><text x="-14.0" y="0.0" font-size="12.6" font-weight="bold">8</text><text x="-7.0" y="0.0" font-size="12.6" font-weight="bold">0</text></g>
<line x1="413.5" y1="497.0" x2="420" y2="497.0" stroke="#000" stroke-width="2.1"/>
<g transform="translate(412.40,501.51) scale(0.89,1)"><text x="-14.0" y="0.0" font-size="12.6" font-weight="bold">6</text><text x="-7.0" y="0.0" font-size="12.6" font-weight="bold">0</text></g>
<line x1="436.3" y1="516.3" x2="436.3" y2="522.5" stroke="#000" stroke-width="2.1"/>
<line x1="468.9" y1="516.3" x2="468.9" y2="522.5" stroke="#000" stroke-width="2.1"/>
<line x1="501.5" y1="516.3" x2="501.5" y2="522.5" stroke="#000" stroke-width="2.1"/>
<line x1="534.1" y1="516.3" x2="534.1" y2="522.5" stroke="#000" stroke-width="2.1"/>
<line x1="566.7" y1="516.3" x2="566.7" y2="522.5" stroke="#000" stroke-width="2.1"/>
<line x1="599.3" y1="516.3" x2="599.3" y2="522.5" stroke="#000" stroke-width="2.1"/>
<line x1="631.9" y1="516.3" x2="631.9" y2="522.5" stroke="#000" stroke-width="2.1"/>
<line x1="664.5" y1="516.3" x2="664.5" y2="522.5" stroke="#000" stroke-width="2.1"/>
<text x="436.5" y="538.6" font-size="14" font-weight="bold" text-anchor="middle">0</text>
<path d="M466.75,529.10 L469.05,529.10 L469.05,538.60 L466.75,538.60 L466.75,532.40 L464.00,533.80 L464.00,531.60 Z" fill="#000"/>
<text x="499.8" y="538.6" font-size="14" font-weight="bold" text-anchor="middle">2</text>
<text x="534.6" y="538.6" font-size="14" font-weight="bold" text-anchor="middle">3</text>
<text x="567.1" y="538.6" font-size="14" font-weight="bold" text-anchor="middle">4</text>
<path d="M599.75,529.10 L602.05,529.10 L602.05,538.60 L599.75,538.60 L599.75,532.40 L597.00,533.80 L597.00,531.60 Z" fill="#000"/>
<text x="632.3" y="538.6" font-size="14" font-weight="bold" text-anchor="middle">2</text>
<text x="664.7" y="538.6" font-size="14" font-weight="bold" text-anchor="middle">4</text>
<text transform="translate(383.5,429.7) rotate(-90)" font-size="13.7" font-weight="bold" text-anchor="middle" textLength="63.8" lengthAdjust="spacingAndGlyphs">LVM (mg)</text>
<line x1="439.3" y1="553.5" x2="468.2" y2="553.5" stroke="#000" stroke-width="1.5"/>
<text x="473.6" y="558.6" font-size="16.8" textLength="32.7" lengthAdjust="spacingAndGlyphs">TAC</text>
<line x1="512.5" y1="553.5" x2="569" y2="553.5" stroke="#000" stroke-width="1.5"/>
<line x1="576.4" y1="534" x2="576.4" y2="558.6" stroke="#000" stroke-width="2.4"/>
<polygon points="576.4,525.6 571.6999999999999,537.8 581.1,537.8" fill="#000"/>
<text x="600.6" y="558.0" font-size="16.6" textLength="57.6" lengthAdjust="spacingAndGlyphs">de-TAC</text>
<text x="454.7" y="582.6" font-size="19.4" textLength="189.6" lengthAdjust="spacingAndGlyphs">Follow-up time (weeks)</text>
<line x1="436.0" y1="473.2" x2="436.0" y2="485.7" stroke="#000" stroke-width="1.6"/>
<line x1="431.8" y1="485.7" x2="440.2" y2="485.7" stroke="#000" stroke-width="1.6"/>
<line x1="468.6" y1="425.0" x2="468.6" y2="446.0" stroke="#000" stroke-width="1.6"/>
<line x1="464.4" y1="446.0" x2="472.8" y2="446.0" stroke="#000" stroke-width="1.6"/>
<line x1="501.2" y1="412.2" x2="501.2" y2="439.6" stroke="#000" stroke-width="1.6"/>
<line x1="497.0" y1="439.6" x2="505.4" y2="439.6" stroke="#000" stroke-width="1.6"/>
<line x1="533.8" y1="403.0" x2="533.8" y2="429.6" stroke="#000" stroke-width="1.6"/>
<line x1="529.6" y1="429.6" x2="538.0" y2="429.6" stroke="#000" stroke-width="1.6"/>
<line x1="566.4" y1="397.2" x2="566.4" y2="427.4" stroke="#000" stroke-width="1.6"/>
<line x1="562.2" y1="427.4" x2="570.6" y2="427.4" stroke="#000" stroke-width="1.6"/>
<polyline points="436.0,473.2 468.6,425.0 501.2,412.2 533.8,403.0 566.4,397.2" fill="none" stroke="#000" stroke-width="2.1" stroke-linejoin="round"/>
<circle cx="436.0" cy="473.2" r="3.40" fill="#000"/>
<circle cx="468.6" cy="425.0" r="3.40" fill="#000"/>
<circle cx="501.2" cy="412.2" r="3.40" fill="#000"/>
<circle cx="533.8" cy="403.0" r="3.40" fill="#000"/>
<circle cx="566.4" cy="397.2" r="3.40" fill="#000"/>
<line x1="436.0" y1="465.1" x2="436.0" y2="446.6" stroke="#e20a0e" stroke-width="1.6"/>
<line x1="431.8" y1="446.6" x2="440.2" y2="446.6" stroke="#e20a0e" stroke-width="1.6"/>
<line x1="468.6" y1="425.0" x2="468.6" y2="407.7" stroke="#e20a0e" stroke-width="1.6"/>
<line x1="464.4" y1="407.7" x2="472.8" y2="407.7" stroke="#e20a0e" stroke-width="1.6"/>
<line x1="501.2" y1="396.7" x2="501.2" y2="371.0" stroke="#e20a0e" stroke-width="1.6"/>
<line x1="497.0" y1="371.0" x2="505.4" y2="371.0" stroke="#e20a0e" stroke-width="1.6"/>
<line x1="533.8" y1="402.3" x2="533.8" y2="373.1" stroke="#e20a0e" stroke-width="1.6"/>
<line x1="529.6" y1="373.1" x2="538.0" y2="373.1" stroke="#e20a0e" stroke-width="1.6"/>
<line x1="566.4" y1="395.5" x2="566.4" y2="371.0" stroke="#e20a0e" stroke-width="1.6"/>
<line x1="562.2" y1="371.0" x2="570.6" y2="371.0" stroke="#e20a0e" stroke-width="1.6"/>
<line x1="599.0" y1="424.3" x2="599.0" y2="386.4" stroke="#e20a0e" stroke-width="1.6"/>
<line x1="594.8" y1="386.4" x2="603.2" y2="386.4" stroke="#e20a0e" stroke-width="1.6"/>
<line x1="599.0" y1="424.3" x2="599.0" y2="463.0" stroke="#e20a0e" stroke-width="1.6"/>
<line x1="594.8" y1="463.0" x2="603.2" y2="463.0" stroke="#e20a0e" stroke-width="1.6"/>
<line x1="631.6" y1="432.7" x2="631.6" y2="403.5" stroke="#e20a0e" stroke-width="1.6"/>
<line x1="627.4" y1="403.5" x2="635.8" y2="403.5" stroke="#e20a0e" stroke-width="1.6"/>
<line x1="631.6" y1="432.7" x2="631.6" y2="461.8" stroke="#e20a0e" stroke-width="1.6"/>
<line x1="627.4" y1="461.8" x2="635.8" y2="461.8" stroke="#e20a0e" stroke-width="1.6"/>
<line x1="664.2" y1="442.5" x2="664.2" y2="410.1" stroke="#e20a0e" stroke-width="1.6"/>
<line x1="660.0" y1="410.1" x2="668.4" y2="410.1" stroke="#e20a0e" stroke-width="1.6"/>
<line x1="664.2" y1="442.5" x2="664.2" y2="474.8" stroke="#e20a0e" stroke-width="1.6"/>
<line x1="660.0" y1="474.8" x2="668.4" y2="474.8" stroke="#e20a0e" stroke-width="1.6"/>
<polyline points="436.0,465.1 468.6,425.0 501.2,396.7 533.8,402.3 566.4,395.5 599.0,424.3 631.6,432.7 664.2,442.5" fill="none" stroke="#e20a0e" stroke-width="2.8" stroke-linejoin="round"/>
<circle cx="436.0" cy="465.1" r="3.40" fill="#f80808"/>
<circle cx="468.6" cy="425.0" r="3.40" fill="#f80808"/>
<circle cx="501.2" cy="396.7" r="3.40" fill="#f80808"/>
<circle cx="533.8" cy="402.3" r="3.40" fill="#f80808"/>
<circle cx="566.4" cy="395.5" r="3.40" fill="#f80808"/>
<circle cx="599.0" cy="424.3" r="3.40" fill="#f80808"/>
<circle cx="631.6" cy="432.7" r="3.40" fill="#f80808"/>
<circle cx="664.2" cy="442.5" r="3.40" fill="#f80808"/>
<line x1="436.0" y1="489.6" x2="436.0" y2="505.7" stroke="#14e614" stroke-width="1.6"/>
<line x1="431.8" y1="505.7" x2="440.2" y2="505.7" stroke="#14e614" stroke-width="1.6"/>
<line x1="468.6" y1="446.5" x2="468.6" y2="484.1" stroke="#14e614" stroke-width="1.6"/>
<line x1="464.4" y1="484.1" x2="472.8" y2="484.1" stroke="#14e614" stroke-width="1.6"/>
<line x1="501.2" y1="415.0" x2="501.2" y2="447.7" stroke="#14e614" stroke-width="1.6"/>
<line x1="497.0" y1="447.7" x2="505.4" y2="447.7" stroke="#14e614" stroke-width="1.6"/>
<line x1="533.8" y1="414.3" x2="533.8" y2="455.9" stroke="#14e614" stroke-width="1.6"/>
<line x1="529.6" y1="455.9" x2="538.0" y2="455.9" stroke="#14e614" stroke-width="1.6"/>
<line x1="566.4" y1="406.4" x2="566.4" y2="455.9" stroke="#14e614" stroke-width="1.6"/>
<line x1="562.2" y1="455.9" x2="570.6" y2="455.9" stroke="#14e614" stroke-width="1.6"/>
<polyline points="436.0,489.6 468.6,446.5 501.2,415.0 533.8,414.3 566.4,406.4" fill="none" stroke="#14e614" stroke-width="2.8" stroke-linejoin="round"/>
<circle cx="436.0" cy="489.6" r="3.40" fill="#10ee10"/>
<circle cx="468.6" cy="446.5" r="3.40" fill="#10ee10"/>
<circle cx="501.2" cy="415.0" r="3.40" fill="#10ee10"/>
<circle cx="533.8" cy="414.3" r="3.40" fill="#10ee10"/>
<circle cx="566.4" cy="406.4" r="3.40" fill="#10ee10"/>
<text x="22.5" y="626.0" font-size="29" font-weight="bold">e</text>
<text x="166.5" y="673.1" font-size="16.2" text-anchor="middle" textLength="42.6" lengthAdjust="spacingAndGlyphs">LVEF</text>
<line x1="47" y1="649.6999999999999" x2="47" y2="825.6" stroke="#000" stroke-width="2.3"/>
<line x1="40.5" y1="824.5" x2="309" y2="824.5" stroke="#000" stroke-width="2.3"/>
<line x1="40.5" y1="650.8" x2="47" y2="650.8" stroke="#000" stroke-width="2.1"/>
<g transform="translate(40.30,655.20) scale(1.0,1)"><text x="-13.7" y="0.0" font-size="12.3" font-weight="bold">6</text><text x="-6.8" y="0.0" font-size="12.3" font-weight="bold">0</text></g>
<line x1="40.5" y1="708.7" x2="47" y2="708.7" stroke="#000" stroke-width="2.1"/>
<g transform="translate(40.30,713.10) scale(1.0,1)"><text x="-13.7" y="0.0" font-size="12.3" font-weight="bold">5</text><text x="-6.8" y="0.0" font-size="12.3" font-weight="bold">0</text></g>
<line x1="40.5" y1="766.6" x2="47" y2="766.6" stroke="#000" stroke-width="2.1"/>
<g transform="translate(40.30,771.00) scale(1.0,1)"><text x="-13.7" y="0.0" font-size="12.3" font-weight="bold">4</text><text x="-6.8" y="0.0" font-size="12.3" font-weight="bold">0</text></g>
<line x1="40.5" y1="824.5" x2="47" y2="824.5" stroke="#000" stroke-width="2.1"/>
<g transform="translate(40.30,828.90) scale(1.0,1)"><text x="-13.7" y="0.0" font-size="12.3" font-weight="bold">3</text><text x="-6.8" y="0.0" font-size="12.3" font-weight="bold">0</text></g>
<line x1="63.3" y1="824.5" x2="63.3" y2="830.7" stroke="#000" stroke-width="2.1"/>
<line x1="95.9" y1="824.5" x2="95.9" y2="830.7" stroke="#000" stroke-width="2.1"/>
<line x1="128.5" y1="824.5" x2="128.5" y2="830.7" stroke="#000" stroke-width="2.1"/>
<line x1="161.1" y1="824.5" x2="161.1" y2="830.7" stroke="#000" stroke-width="2.1"/>
<line x1="193.7" y1="824.5" x2="193.7" y2="830.7" stroke="#000" stroke-width="2.1"/>
<line x1="226.3" y1="824.5" x2="226.3" y2="830.7" stroke="#000" stroke-width="2.1"/>
<line x1="258.9" y1="824.5" x2="258.9" y2="830.7" stroke="#000" stroke-width="2.1"/>
<line x1="291.5" y1="824.5" x2="291.5" y2="830.7" stroke="#000" stroke-width="2.1"/>
<text x="63.5" y="846.5" font-size="14" font-weight="bold" text-anchor="middle">0</text>
<path d="M93.75,837.00 L96.05,837.00 L96.05,846.50 L93.75,846.50 L93.75,840.30 L91.00,841.70 L91.00,839.50 Z" fill="#000"/>
<text x="126.8" y="846.5" font-size="14" font-weight="bold" text-anchor="middle">2</text>
<text x="161.6" y="846.5" font-size="14" font-weight="bold" text-anchor="middle">3</text>
<text x="194.1" y="846.5" font-size="14" font-weight="bold" text-anchor="middle">4</text>
<path d="M226.75,837.00 L229.05,837.00 L229.05,846.50 L226.75,846.50 L226.75,840.30 L224.00,841.70 L224.00,839.50 Z" fill="#000"/>
<text x="259.3" y="846.5" font-size="14" font-weight="bold" text-anchor="middle">2</text>
<text x="291.7" y="846.5" font-size="14" font-weight="bold" text-anchor="middle">4</text>
<text transform="translate(16.8,738.7) rotate(-90)" font-size="14.2" font-weight="bold" text-anchor="middle" textLength="142.6" lengthAdjust="spacingAndGlyphs">Ejection Fraction (%)</text>
<line x1="66.3" y1="862.5" x2="95.2" y2="862.5" stroke="#000" stroke-width="1.5"/>
<text x="100.6" y="867.6" font-size="16.8" textLength="32.7" lengthAdjust="spacingAndGlyphs">TAC</text>
<line x1="139.5" y1="862.5" x2="196" y2="862.5" stroke="#000" stroke-width="1.5"/>
<line x1="203.4" y1="843" x2="203.4" y2="867.6" stroke="#000" stroke-width="2.4"/>
<polygon points="203.4,834.6 198.70000000000002,846.8 208.1,846.8" fill="#000"/>
<text x="227.6" y="867.0" font-size="16.6" textLength="57.6" lengthAdjust="spacingAndGlyphs">de-TAC</text>
<text x="81.7" y="891.6" font-size="19.4" textLength="189.6" lengthAdjust="spacingAndGlyphs">Follow-up time (weeks)</text>
<line x1="63.3" y1="702.0" x2="63.3" y2="684.8" stroke="#000" stroke-width="2.2"/>
<line x1="59.1" y1="684.8" x2="67.5" y2="684.8" stroke="#000" stroke-width="2.2"/>
<line x1="95.9" y1="705.5" x2="95.9" y2="715.7" stroke="#000" stroke-width="2.2"/>
<line x1="91.7" y1="715.7" x2="100.1" y2="715.7" stroke="#000" stroke-width="2.2"/>
<line x1="128.5" y1="735.5" x2="128.5" y2="725.9" stroke="#000" stroke-width="2.2"/>
<line x1="124.3" y1="725.9" x2="132.7" y2="725.9" stroke="#000" stroke-width="2.2"/>
<line x1="161.1" y1="750.6" x2="161.1" y2="741.7" stroke="#000" stroke-width="2.2"/>
<line x1="156.9" y1="741.7" x2="165.3" y2="741.7" stroke="#000" stroke-width="2.2"/>
<line x1="193.7" y1="729.3" x2="193.7" y2="721.4" stroke="#000" stroke-width="2.2"/>
<line x1="189.5" y1="721.4" x2="197.9" y2="721.4" stroke="#000" stroke-width="2.2"/>
<line x1="193.7" y1="729.3" x2="193.7" y2="737.3" stroke="#000" stroke-width="2.2"/>
<line x1="189.5" y1="737.3" x2="197.9" y2="737.3" stroke="#000" stroke-width="2.2"/>
<polyline points="63.3,702.0 95.9,705.5 128.5,735.5 161.1,750.6 193.7,729.3" fill="none" stroke="#000" stroke-width="2.6" stroke-linejoin="round"/>
<circle cx="63.3" cy="702.0" r="3.40" fill="#000"/>
<circle cx="95.9" cy="705.5" r="3.40" fill="#000"/>
<circle cx="128.5" cy="735.5" r="3.40" fill="#000"/>
<circle cx="161.1" cy="750.6" r="3.40" fill="#000"/>
<circle cx="193.7" cy="729.3" r="3.40" fill="#000"/>
<line x1="63.3" y1="704.8" x2="63.3" y2="714.0" stroke="#e20a0e" stroke-width="2.2"/>
<line x1="59.1" y1="714.0" x2="67.5" y2="714.0" stroke="#e20a0e" stroke-width="2.2"/>
<line x1="95.9" y1="722.5" x2="95.9" y2="739.2" stroke="#e20a0e" stroke-width="2.2"/>
<line x1="91.7" y1="739.2" x2="100.1" y2="739.2" stroke="#e20a0e" stroke-width="2.2"/>
<line x1="128.5" y1="736.5" x2="128.5" y2="751.7" stroke="#e20a0e" stroke-width="2.2"/>
<line x1="124.3" y1="751.7" x2="132.7" y2="751.7" stroke="#e20a0e" stroke-width="2.2"/>
<line x1="161.1" y1="765.4" x2="161.1" y2="779.6" stroke="#e20a0e" stroke-width="2.2"/>
<line x1="156.9" y1="779.6" x2="165.3" y2="779.6" stroke="#e20a0e" stroke-width="2.2"/>
<line x1="193.7" y1="759.7" x2="193.7" y2="742.0" stroke="#e20a0e" stroke-width="2.2"/>
<line x1="189.5" y1="742.0" x2="197.9" y2="742.0" stroke="#e20a0e" stroke-width="2.2"/>
<line x1="193.7" y1="759.7" x2="193.7" y2="777.7" stroke="#e20a0e" stroke-width="2.2"/>
<line x1="189.5" y1="777.7" x2="197.9" y2="777.7" stroke="#e20a0e" stroke-width="2.2"/>
<line x1="226.3" y1="736.9" x2="226.3" y2="724.2" stroke="#e20a0e" stroke-width="2.2"/>
<line x1="222.1" y1="724.2" x2="230.5" y2="724.2" stroke="#e20a0e" stroke-width="2.2"/>
<line x1="226.3" y1="736.9" x2="226.3" y2="749.9" stroke="#e20a0e" stroke-width="2.2"/>
<line x1="222.1" y1="749.9" x2="230.5" y2="749.9" stroke="#e20a0e" stroke-width="2.2"/>
<line x1="258.9" y1="723.2" x2="258.9" y2="710.1" stroke="#e20a0e" stroke-width="2.2"/>
<line x1="254.7" y1="710.1" x2="263.1" y2="710.1" stroke="#e20a0e" stroke-width="2.2"/>
<line x1="258.9" y1="723.2" x2="258.9" y2="736.9" stroke="#e20a0e" stroke-width="2.2"/>
<line x1="254.7" y1="736.9" x2="263.1" y2="736.9" stroke="#e20a0e" stroke-width="2.2"/>
<line x1="291.5" y1="731.0" x2="291.5" y2="720.8" stroke="#e20a0e" stroke-width="2.2"/>
<line x1="287.3" y1="720.8" x2="295.7" y2="720.8" stroke="#e20a0e" stroke-width="2.2"/>
<line x1="291.5" y1="731.0" x2="291.5" y2="741.7" stroke="#e20a0e" stroke-width="2.2"/>
<line x1="287.3" y1="741.7" x2="295.7" y2="741.7" stroke="#e20a0e" stroke-width="2.2"/>
<polyline points="63.3,704.8 95.9,722.5 128.5,736.5 161.1,765.4 193.7,759.7 226.3,736.9 258.9,723.2 291.5,731.0" fill="none" stroke="#e20a0e" stroke-width="2.6" stroke-linejoin="round"/>
<circle cx="63.3" cy="704.8" r="3.40" fill="#f80808"/>
<circle cx="95.9" cy="722.5" r="3.40" fill="#f80808"/>
<circle cx="128.5" cy="736.5" r="3.40" fill="#f80808"/>
<circle cx="161.1" cy="765.4" r="3.40" fill="#f80808"/>
<circle cx="193.7" cy="759.7" r="3.40" fill="#f80808"/>
<circle cx="226.3" cy="736.9" r="3.40" fill="#f80808"/>
<circle cx="258.9" cy="723.2" r="3.40" fill="#f80808"/>
<circle cx="291.5" cy="731.0" r="3.40" fill="#f80808"/>
<line x1="63.3" y1="688.6" x2="63.3" y2="678.3" stroke="#14e614" stroke-width="2.2"/>
<line x1="59.1" y1="678.3" x2="67.5" y2="678.3" stroke="#14e614" stroke-width="2.2"/>
<line x1="95.9" y1="696.3" x2="95.9" y2="685.7" stroke="#14e614" stroke-width="2.2"/>
<line x1="91.7" y1="685.7" x2="100.1" y2="685.7" stroke="#14e614" stroke-width="2.2"/>
<line x1="128.5" y1="718.7" x2="128.5" y2="710.0" stroke="#14e614" stroke-width="2.2"/>
<line x1="124.3" y1="710.0" x2="132.7" y2="710.0" stroke="#14e614" stroke-width="2.2"/>
<line x1="161.1" y1="719.8" x2="161.1" y2="706.6" stroke="#14e614" stroke-width="2.2"/>
<line x1="156.9" y1="706.6" x2="165.3" y2="706.6" stroke="#14e614" stroke-width="2.2"/>
<line x1="161.1" y1="719.8" x2="161.1" y2="732.2" stroke="#14e614" stroke-width="2.2"/>
<line x1="156.9" y1="732.2" x2="165.3" y2="732.2" stroke="#14e614" stroke-width="2.2"/>
<line x1="193.7" y1="705.2" x2="193.7" y2="691.0" stroke="#14e614" stroke-width="2.2"/>
<line x1="189.5" y1="691.0" x2="197.9" y2="691.0" stroke="#14e614" stroke-width="2.2"/>
<line x1="193.7" y1="705.2" x2="193.7" y2="720.0" stroke="#14e614" stroke-width="2.2"/>
<line x1="189.5" y1="720.0" x2="197.9" y2="720.0" stroke="#14e614" stroke-width="2.2"/>
<polyline points="63.3,688.6 95.9,696.3 128.5,718.7 161.1,719.8 193.7,705.2" fill="none" stroke="#14e614" stroke-width="2.6" stroke-linejoin="round"/>
<rect x="59.8" y="685.1" width="7.0" height="7.0" fill="#10ee10"/>
<rect x="92.4" y="692.8" width="7.0" height="7.0" fill="#10ee10"/>
<rect x="125.0" y="715.2" width="7.0" height="7.0" fill="#10ee10"/>
<rect x="157.6" y="716.3" width="7.0" height="7.0" fill="#10ee10"/>
<rect x="190.2" y="701.7" width="7.0" height="7.0" fill="#10ee10"/>
<text x="416.0" y="626.0" font-size="29" font-weight="bold">f</text>
<text x="538.0" y="668.0" font-size="16.2" text-anchor="middle" textLength="58.0" lengthAdjust="spacingAndGlyphs">MAPSE</text>
<line x1="420" y1="650.1" x2="420" y2="826.1" stroke="#000" stroke-width="2.3"/>
<line x1="413.5" y1="825" x2="681.6" y2="825" stroke="#000" stroke-width="2.3"/>
<line x1="413.5" y1="651.2" x2="420" y2="651.2" stroke="#000" stroke-width="2.1"/>
<g transform="translate(413.30,655.68) scale(1.0,1)"><text x="-17.4" y="0.0" font-size="12.5" font-weight="bold">0</text><text x="-10.4" y="0.0" font-size="12.5" font-weight="bold">.</text><text x="-6.9" y="0.0" font-size="12.5" font-weight="bold">8</text></g>
<line x1="413.5" y1="694.7" x2="420" y2="694.7" stroke="#000" stroke-width="2.1"/>
<g transform="translate(413.30,699.18) scale(1.0,1)"><text x="-17.4" y="0.0" font-size="12.5" font-weight="bold">0</text><text x="-10.4" y="0.0" font-size="12.5" font-weight="bold">.</text><text x="-6.9" y="0.0" font-size="12.5" font-weight="bold">6</text></g>
<line x1="413.5" y1="738.1" x2="420" y2="738.1" stroke="#000" stroke-width="2.1"/>
<g transform="translate(413.30,742.58) scale(1.0,1)"><text x="-17.4" y="0.0" font-size="12.5" font-weight="bold">0</text><text x="-10.4" y="0.0" font-size="12.5" font-weight="bold">.</text><text x="-6.9" y="0.0" font-size="12.5" font-weight="bold">4</text></g>
<line x1="413.5" y1="781.5" x2="420" y2="781.5" stroke="#000" stroke-width="2.1"/>
<g transform="translate(413.30,785.98) scale(1.0,1)"><text x="-17.4" y="0.0" font-size="12.5" font-weight="bold">0</text><text x="-10.4" y="0.0" font-size="12.5" font-weight="bold">.</text><text x="-6.9" y="0.0" font-size="12.5" font-weight="bold">2</text></g>
<line x1="413.5" y1="825.0" x2="420" y2="825.0" stroke="#000" stroke-width="2.1"/>
<g transform="translate(413.30,829.48) scale(1.0,1)"><text x="-17.4" y="0.0" font-size="12.5" font-weight="bold">0</text><text x="-10.4" y="0.0" font-size="12.5" font-weight="bold">.</text><text x="-6.9" y="0.0" font-size="12.5" font-weight="bold">0</text></g>
<line x1="436.3" y1="825" x2="436.3" y2="831.2" stroke="#000" stroke-width="2.1"/>
<line x1="468.9" y1="825" x2="468.9" y2="831.2" stroke="#000" stroke-width="2.1"/>
<line x1="501.5" y1="825" x2="501.5" y2="831.2" stroke="#000" stroke-width="2.1"/>
<line x1="534.1" y1="825" x2="534.1" y2="831.2" stroke="#000" stroke-width="2.1"/>
<line x1="566.7" y1="825" x2="566.7" y2="831.2" stroke="#000" stroke-width="2.1"/>
<line x1="599.3" y1="825" x2="599.3" y2="831.2" stroke="#000" stroke-width="2.1"/>
<line x1="631.9" y1="825" x2="631.9" y2="831.2" stroke="#000" stroke-width="2.1"/>
<line x1="664.5" y1="825" x2="664.5" y2="831.2" stroke="#000" stroke-width="2.1"/>
<text x="436.5" y="846.5" font-size="14" font-weight="bold" text-anchor="middle">0</text>
<path d="M466.75,837.00 L469.05,837.00 L469.05,846.50 L466.75,846.50 L466.75,840.30 L464.00,841.70 L464.00,839.50 Z" fill="#000"/>
<text x="499.8" y="846.5" font-size="14" font-weight="bold" text-anchor="middle">2</text>
<text x="534.6" y="846.5" font-size="14" font-weight="bold" text-anchor="middle">3</text>
<text x="567.1" y="846.5" font-size="14" font-weight="bold" text-anchor="middle">4</text>
<path d="M599.75,837.00 L602.05,837.00 L602.05,846.50 L599.75,846.50 L599.75,840.30 L597.00,841.70 L597.00,839.50 Z" fill="#000"/>
<text x="632.3" y="846.5" font-size="14" font-weight="bold" text-anchor="middle">2</text>
<text x="664.7" y="846.5" font-size="14" font-weight="bold" text-anchor="middle">4</text>
<text transform="translate(385.4,738.2) rotate(-90)" font-size="15.0" font-weight="bold" text-anchor="middle" textLength="103.4" lengthAdjust="spacingAndGlyphs">MAPSE (mm)</text>
<line x1="438.3" y1="862.5" x2="467.2" y2="862.5" stroke="#000" stroke-width="1.5"/>
<text x="472.6" y="867.6" font-size="16.8" textLength="32.7" lengthAdjust="spacingAndGlyphs">TAC</text>
<line x1="511.5" y1="862.5" x2="568" y2="862.5" stroke="#000" stroke-width="1.5"/>
<line x1="575.4" y1="843" x2="575.4" y2="867.6" stroke="#000" stroke-width="2.4"/>
<polygon points="575.4,834.6 570.6999999999999,846.8 580.1,846.8" fill="#000"/>
<text x="599.6" y="867.0" font-size="16.6" textLength="57.6" lengthAdjust="spacingAndGlyphs">de-TAC</text>
<text x="453.7" y="891.6" font-size="19.4" textLength="189.6" lengthAdjust="spacingAndGlyphs">Follow-up time (weeks)</text>
<line x1="436.0" y1="684.3" x2="436.0" y2="688.0" stroke="#000" stroke-width="2.2"/>
<line x1="431.8" y1="688.0" x2="440.2" y2="688.0" stroke="#000" stroke-width="2.2"/>
<line x1="468.6" y1="712.0" x2="468.6" y2="707.0" stroke="#000" stroke-width="2.2"/>
<line x1="464.4" y1="707.0" x2="472.8" y2="707.0" stroke="#000" stroke-width="2.2"/>
<line x1="533.8" y1="712.8" x2="533.8" y2="707.0" stroke="#000" stroke-width="2.2"/>
<line x1="529.6" y1="707.0" x2="538.0" y2="707.0" stroke="#000" stroke-width="2.2"/>
<line x1="533.8" y1="712.8" x2="533.8" y2="718.7" stroke="#000" stroke-width="2.2"/>
<line x1="529.6" y1="718.7" x2="538.0" y2="718.7" stroke="#000" stroke-width="2.2"/>
<line x1="566.4" y1="706.3" x2="566.4" y2="701.9" stroke="#000" stroke-width="2.2"/>
<line x1="562.2" y1="701.9" x2="570.6" y2="701.9" stroke="#000" stroke-width="2.2"/>
<line x1="566.4" y1="706.3" x2="566.4" y2="710.2" stroke="#000" stroke-width="2.2"/>
<line x1="562.2" y1="710.2" x2="570.6" y2="710.2" stroke="#000" stroke-width="2.2"/>
<polyline points="436.0,684.3 468.6,712.0 501.2,715.8 533.8,712.8 566.4,706.3" fill="none" stroke="#000" stroke-width="2.6" stroke-linejoin="round"/>
<circle cx="436.0" cy="684.3" r="3.40" fill="#000"/>
<circle cx="468.6" cy="712.0" r="3.40" fill="#000"/>
<circle cx="501.2" cy="715.8" r="3.40" fill="#000"/>
<circle cx="533.8" cy="712.8" r="3.40" fill="#000"/>
<circle cx="566.4" cy="706.3" r="3.40" fill="#000"/>
<line x1="436.0" y1="673.8" x2="436.0" y2="667.5" stroke="#e20a0e" stroke-width="2.2"/>
<line x1="431.8" y1="667.5" x2="440.2" y2="667.5" stroke="#e20a0e" stroke-width="2.2"/>
<line x1="468.6" y1="724.5" x2="468.6" y2="732.9" stroke="#e20a0e" stroke-width="2.2"/>
<line x1="464.4" y1="732.9" x2="472.8" y2="732.9" stroke="#e20a0e" stroke-width="2.2"/>
<line x1="501.2" y1="726.0" x2="501.2" y2="733.7" stroke="#e20a0e" stroke-width="2.2"/>
<line x1="497.0" y1="733.7" x2="505.4" y2="733.7" stroke="#e20a0e" stroke-width="2.2"/>
<line x1="533.8" y1="728.2" x2="533.8" y2="723.0" stroke="#e20a0e" stroke-width="2.2"/>
<line x1="529.6" y1="723.0" x2="538.0" y2="723.0" stroke="#e20a0e" stroke-width="2.2"/>
<line x1="533.8" y1="728.2" x2="533.8" y2="734.0" stroke="#e20a0e" stroke-width="2.2"/>
<line x1="529.6" y1="734.0" x2="538.0" y2="734.0" stroke="#e20a0e" stroke-width="2.2"/>
<line x1="566.4" y1="733.3" x2="566.4" y2="728.9" stroke="#e20a0e" stroke-width="2.2"/>
<line x1="562.2" y1="728.9" x2="570.6" y2="728.9" stroke="#e20a0e" stroke-width="2.2"/>
<line x1="566.4" y1="733.3" x2="566.4" y2="738.1" stroke="#e20a0e" stroke-width="2.2"/>
<line x1="562.2" y1="738.1" x2="570.6" y2="738.1" stroke="#e20a0e" stroke-width="2.2"/>
<line x1="599.0" y1="708.7" x2="599.0" y2="702.5" stroke="#e20a0e" stroke-width="2.2"/>
<line x1="594.8" y1="702.5" x2="603.2" y2="702.5" stroke="#e20a0e" stroke-width="2.2"/>
<line x1="599.0" y1="708.7" x2="599.0" y2="715.3" stroke="#e20a0e" stroke-width="2.2"/>
<line x1="594.8" y1="715.3" x2="603.2" y2="715.3" stroke="#e20a0e" stroke-width="2.2"/>
<line x1="631.6" y1="697.3" x2="631.6" y2="690.7" stroke="#e20a0e" stroke-width="2.2"/>
<line x1="627.4" y1="690.7" x2="635.8" y2="690.7" stroke="#e20a0e" stroke-width="2.2"/>
<line x1="631.6" y1="697.3" x2="631.6" y2="704.0" stroke="#e20a0e" stroke-width="2.2"/>
<line x1="627.4" y1="704.0" x2="635.8" y2="704.0" stroke="#e20a0e" stroke-width="2.2"/>
<line x1="664.2" y1="701.7" x2="664.2" y2="696.0" stroke="#e20a0e" stroke-width="2.2"/>
<line x1="660.0" y1="696.0" x2="668.4" y2="696.0" stroke="#e20a0e" stroke-width="2.2"/>
<line x1="664.2" y1="701.7" x2="664.2" y2="707.6" stroke="#e20a0e" stroke-width="2.2"/>
<line x1="660.0" y1="707.6" x2="668.4" y2="707.6" stroke="#e20a0e" stroke-width="2.2"/>
<polyline points="436.0,673.8 468.6,724.5 501.2,726.0 533.8,728.2 566.4,733.3 599.0,708.7 631.6,697.3 664.2,701.7" fill="none" stroke="#e20a0e" stroke-width="2.6" stroke-linejoin="round"/>
<circle cx="436.0" cy="673.8" r="3.40" fill="#f80808"/>
<circle cx="468.6" cy="724.5" r="3.40" fill="#f80808"/>
<circle cx="501.2" cy="726.0" r="3.40" fill="#f80808"/>
<circle cx="533.8" cy="728.2" r="3.40" fill="#f80808"/>
<circle cx="566.4" cy="733.3" r="3.40" fill="#f80808"/>
<circle cx="599.0" cy="708.7" r="3.40" fill="#f80808"/>
<circle cx="631.6" cy="697.3" r="3.40" fill="#f80808"/>
<circle cx="664.2" cy="701.7" r="3.40" fill="#f80808"/>
<line x1="436.0" y1="680.4" x2="436.0" y2="696.7" stroke="#14e614" stroke-width="2.2"/>
<line x1="431.8" y1="696.7" x2="440.2" y2="696.7" stroke="#14e614" stroke-width="2.2"/>
<line x1="468.6" y1="717.0" x2="468.6" y2="697.3" stroke="#14e614" stroke-width="2.2"/>
<line x1="464.4" y1="697.3" x2="472.8" y2="697.3" stroke="#14e614" stroke-width="2.2"/>
<line x1="501.2" y1="706.5" x2="501.2" y2="703.6" stroke="#14e614" stroke-width="2.2"/>
<line x1="497.0" y1="703.6" x2="505.4" y2="703.6" stroke="#14e614" stroke-width="2.2"/>
<line x1="533.8" y1="740.6" x2="533.8" y2="748.9" stroke="#14e614" stroke-width="2.2"/>
<line x1="529.6" y1="748.9" x2="538.0" y2="748.9" stroke="#14e614" stroke-width="2.2"/>
<line x1="566.4" y1="746.9" x2="566.4" y2="760.0" stroke="#14e614" stroke-width="2.2"/>
<line x1="562.2" y1="760.0" x2="570.6" y2="760.0" stroke="#14e614" stroke-width="2.2"/>
<polyline points="436.0,680.4 468.6,717.0 501.2,706.5 533.8,740.6 566.4,746.9" fill="none" stroke="#14e614" stroke-width="2.6" stroke-linejoin="round"/>
<rect x="432.5" y="676.9" width="7.0" height="7.0" fill="#10ee10"/>
<rect x="465.1" y="713.5" width="7.0" height="7.0" fill="#10ee10"/>
<rect x="497.7" y="703.0" width="7.0" height="7.0" fill="#10ee10"/>
<rect x="530.3" y="737.1" width="7.0" height="7.0" fill="#10ee10"/>
<rect x="562.9" y="743.4" width="7.0" height="7.0" fill="#10ee10"/>
</svg>
</body></html>
